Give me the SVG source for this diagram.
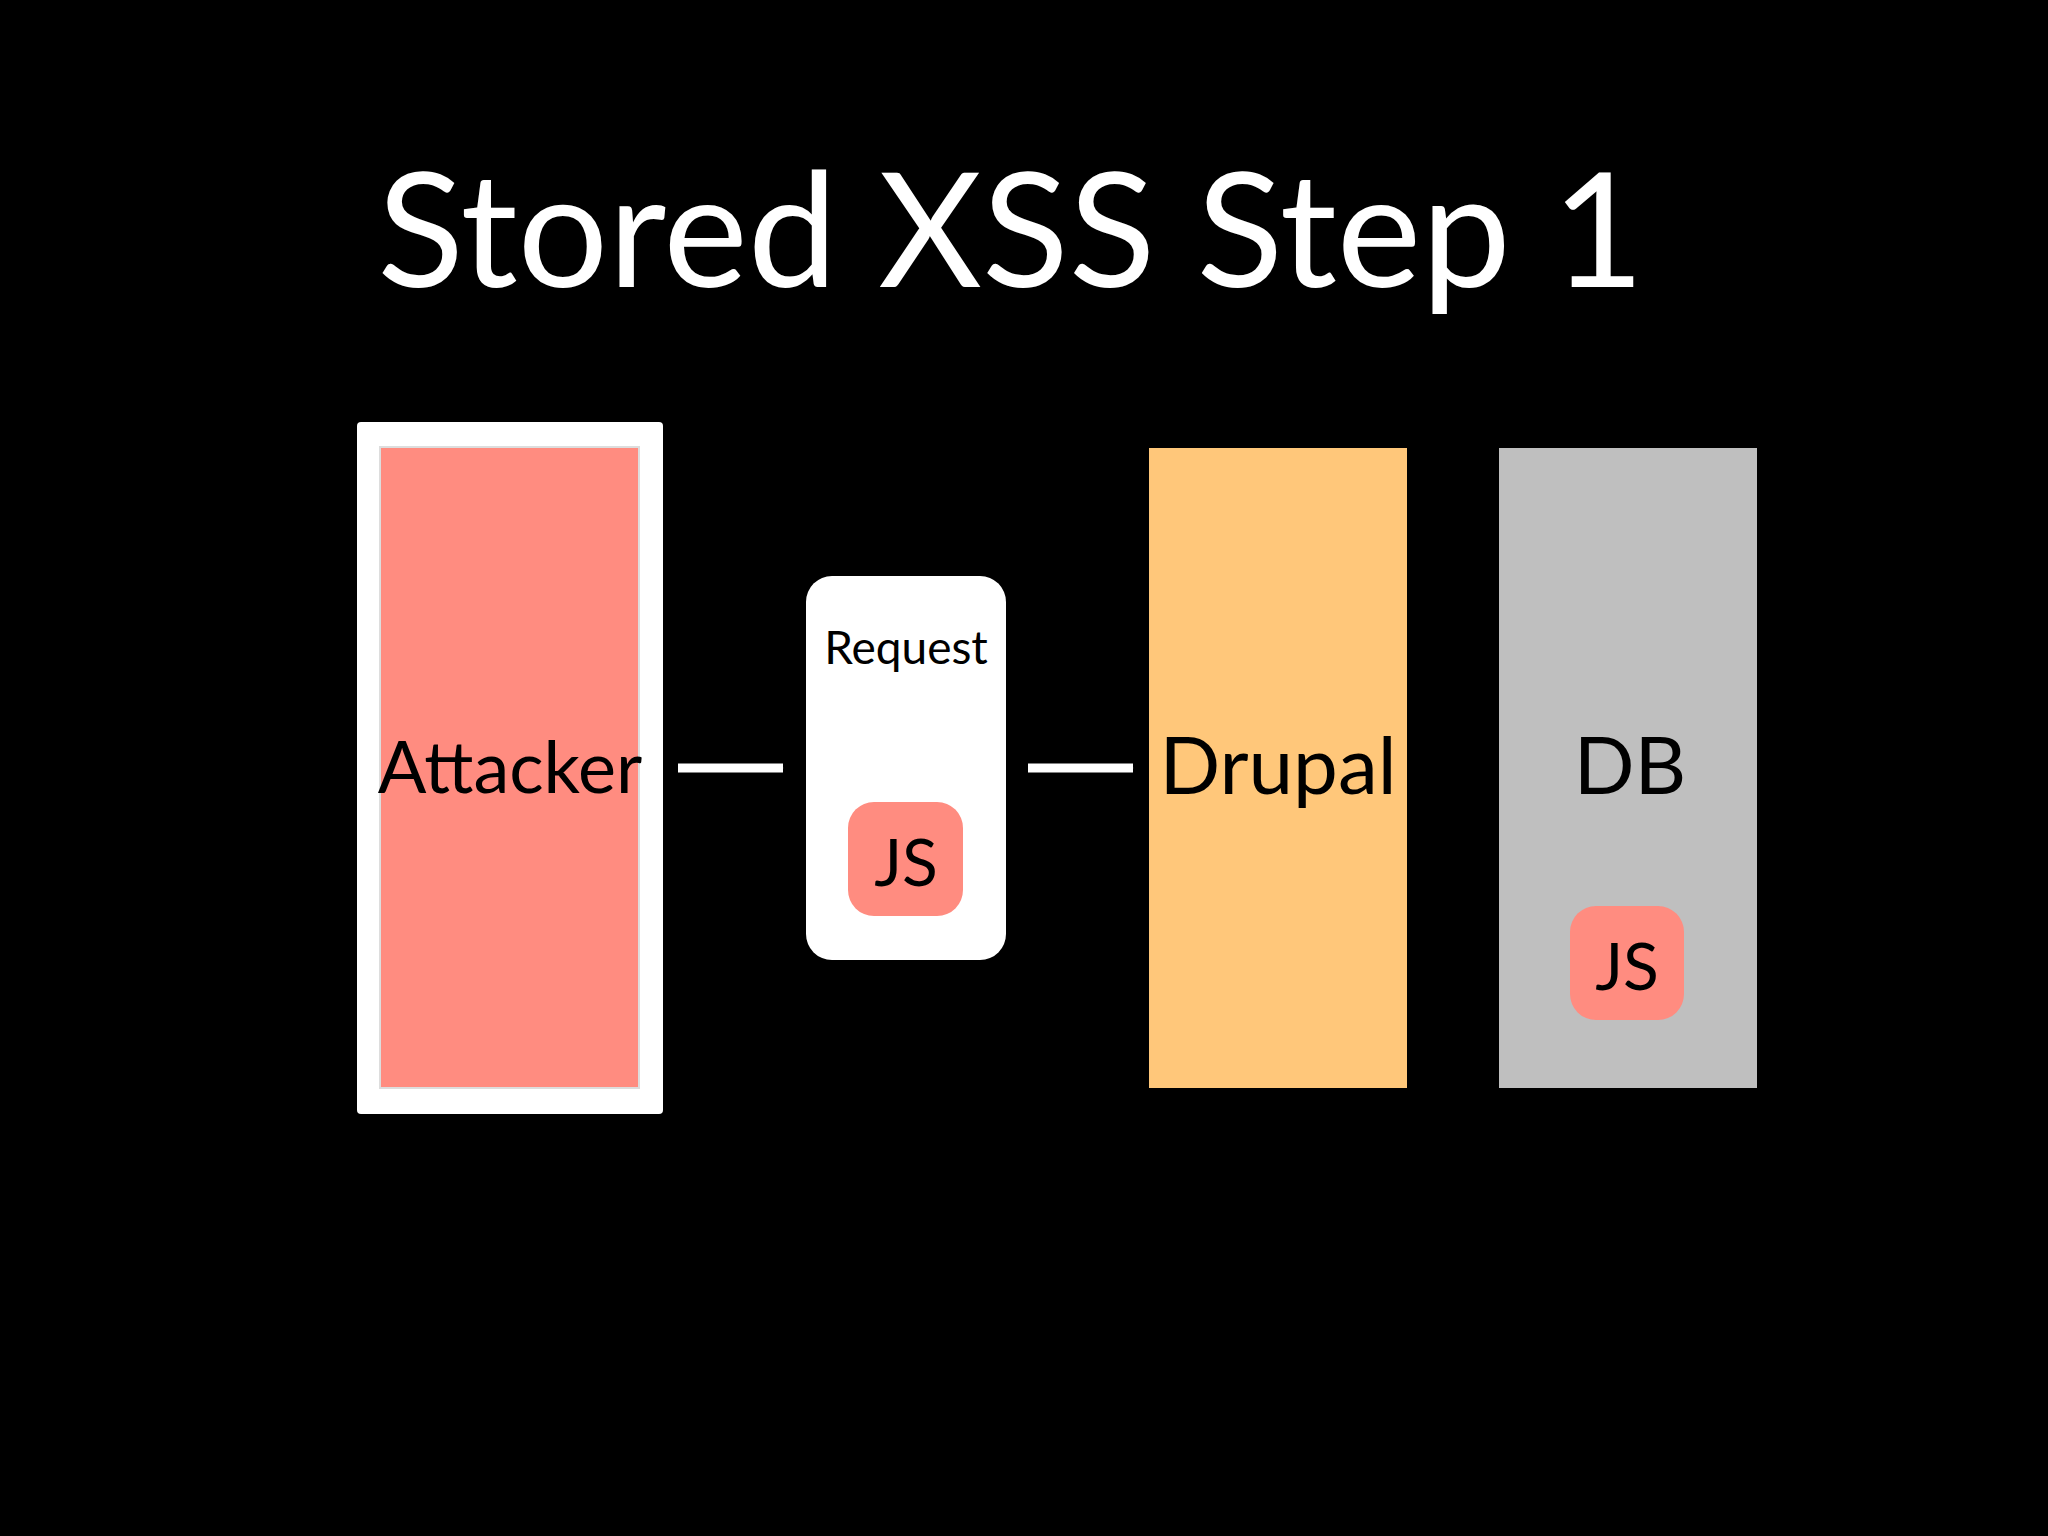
<svg xmlns="http://www.w3.org/2000/svg" width="2048" height="1536" viewBox="0 0 2048 1536">
<defs>
<style>
text{font-family:Lato,"Open Sans","Liberation Sans",sans-serif;text-anchor:middle;fill:#000}
.js{fill:#FF8C80}
.arr{stroke:#fff;stroke-width:9;fill:none}
</style>
<marker id="ah" viewBox="0 0 10 10" refX="9" refY="5" markerWidth="5" markerHeight="5" markerUnits="userSpaceOnUse" orient="auto"><path d="M0,0 L10,5 L0,10 L3,5 Z" fill="#fff"/></marker>
</defs>
<rect width="2048" height="1536" fill="#000"/>
<text x="1011" y="287" font-size="160" style="fill:#fff">Stored XSS Step  1</text>
<g id="attacker">
<rect x="357" y="422" width="306" height="692" rx="4" fill="#fff"/>
<rect x="380" y="447" width="259" height="641" fill="#FF8C80" stroke="#ddd" stroke-width="2"/>
<text x="510" y="793" font-size="72">Attacker</text>
</g>
<g id="request">
<rect x="806" y="576" width="200" height="384" rx="26" fill="#fff"/>
<text x="906" y="664" font-size="46">Request</text>
<rect class="js" x="848" y="802" width="115" height="114" rx="26"/>
<text x="906" y="886" font-size="66">JS</text>
</g>
<g id="drupal">
<rect x="1149" y="448" width="258" height="640" fill="#FFC77A"/>
<text x="1278" y="794" font-size="80">Drupal</text>
</g>
<g id="db">
<rect x="1499" y="448" width="258" height="640" fill="#BFBFBF"/>
<text x="1630" y="794" font-size="80">DB</text>
<rect class="js" x="1570" y="906" width="114" height="114" rx="26"/>
<text x="1627" y="990" font-size="66">JS</text>
</g>
<g id="connectors">
<path d="M678 768 L783 768" class="arr" marker-end="url(#ah)"/>
<path d="M1028 768 L1133 768" class="arr" marker-end="url(#ah)"/>
</g>
</svg>
